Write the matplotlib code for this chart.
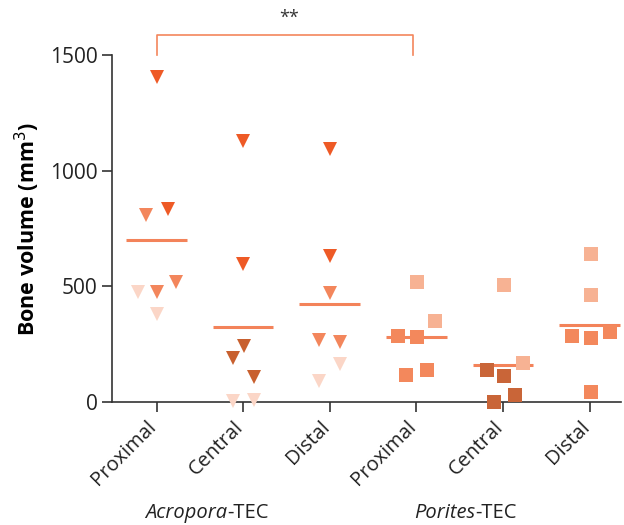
import numpy as np
import matplotlib.pyplot as plt
import matplotlib.transforms as mtransforms

# =========================
# Data
# =========================
groups = ["Proximal", "Central", "Distal", "Proximal", "Central", "Distal"]
markers = ["v", "v", "v", "s", "s", "s"]

# values per group, with horizontal jitter (category units) and shade
values = [
    [1405, 808, 834, 519, 476, 476, 380],
    [1128, 597, 242, 190, 108, 5, 10],
    [1094, 631, 471, 268, 259, 164, 91],
    [519, 350, 285, 281, 117, 138],
    [506, 169, 138, 112, 30, 0],
    [640, 463, 285, 277, 303, 43],
]
jitter = [
    [0.0, -0.12, 0.13, 0.22, -0.21, 0.0, 0.0],
    [0.0, 0.0, 0.01, -0.12, 0.12, -0.12, 0.12],
    [0.0, 0.0, 0.0, -0.12, 0.12, 0.12, -0.12],
    [0.01, 0.22, -0.21, 0.01, -0.12, 0.12],
    [0.01, 0.23, -0.19, 0.01, 0.14, -0.11],
    [0.01, 0.01, -0.2, 0.01, 0.23, 0.01],
]
shade = [
    ["d", "m", "d", "m", "l", "m", "l"],
    ["d", "d", "b", "b", "b", "l", "l"],
    ["d", "d", "m", "m", "m", "l", "l"],
    ["l", "l", "m", "m", "m", "m"],
    ["l", "l", "b", "b", "b", "b"],
    ["l", "l", "m", "m", "m", "m"],
]

tri_colors = {"d": "#EE5A26", "m": "#F3865C", "l": "#FBD6C7", "b": "#C8602F"}
sq_colors = {"d": "#EE5A26", "m": "#F3885C", "l": "#F7B293", "b": "#C96538"}

mean_color = "#F3835A"

# =========================
# Plot
# =========================
plt.rcParams['font.family'] = ['Open Sans', 'DejaVu Sans']

fig = plt.figure(figsize=(6.24, 5.25), dpi=100)
ax = fig.add_axes([0.18, 0.234, 0.815, 0.661])

for i, vals in enumerate(values):
    cmap = tri_colors if markers[i] == "v" else sq_colors
    ms = 9.5 if markers[i] == "v" else 10
    for v, dx, s in zip(vals, jitter[i], shade[i]):
        ax.plot(i + dx, v, marker=markers[i], ms=ms, color=cmap[s],
                markeredgewidth=0, linestyle='none', clip_on=False, zorder=3)
    ax.hlines(np.mean(vals), i - 0.35, i + 0.35, color=mean_color,
              linewidth=2.2, zorder=2)

# significance bracket
ax.plot([0, 0, 2.956, 2.956], [1500, 1585, 1585, 1500], color="#F3865C",
        linewidth=1.2, clip_on=False)
ax.text(1.53, 1662, "**", ha='center', va='center', fontsize=13, color="#333333")

ax.set_xlim(-0.51, 5.36)
ax.set_ylim(0, 1500)
ax.set_yticks([0, 500, 1000, 1500])
ax.set_xticks(range(len(groups)))
ax.set_xticklabels(groups, rotation=45, ha='right', rotation_mode='anchor',
                   fontsize=14.5, color="#222222")
ax.tick_params(axis='y', labelsize=15, labelcolor="#222222")
ax.tick_params(direction='out', length=7, width=1.2, color="#333333")

# nudge rotated labels so they end just left of the tick
shift = mtransforms.ScaledTranslation(-10 / 100, 0, fig.dpi_scale_trans)
for lbl in ax.get_xticklabels():
    lbl.set_transform(lbl.get_transform() + shift)

for side in ['top', 'right']:
    ax.spines[side].set_visible(False)
for side in ['left', 'bottom']:
    ax.spines[side].set_linewidth(1.2)
    ax.spines[side].set_color("#333333")

ax.set_ylabel("Bone volume (mm$^3$)", fontsize=15.5, fontweight='bold',
              labelpad=6)

# group labels
t1 = fig.text(227 / 624, 1 - 513 / 525, "Acropora", style='italic',
              ha='right', va='center', fontsize=14.5, color="#222222")
ax.annotate("-TEC", xy=(1, 0), xycoords=t1, va='bottom', ha='left',
            fontsize=14.5, color="#222222")
t2 = fig.text(475 / 624, 1 - 513 / 525, "Porites", style='italic',
              ha='right', va='center', fontsize=14.5, color="#222222")
ax.annotate("-TEC", xy=(1, 0), xycoords=t2, va='bottom', ha='left',
            fontsize=14.5, color="#222222")

plt.savefig("out.png", dpi=100)
